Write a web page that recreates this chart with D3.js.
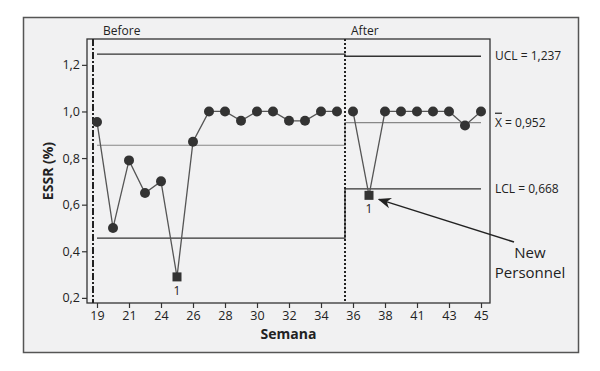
<!DOCTYPE html>
<html>
<head>
<meta charset="utf-8">
<script src="https://cdn.jsdelivr.net/npm/d3@7"></script>
<style>
  body { margin: 0; background: #fff; }
  text { font-family: "Open Sans", "Noto Sans", sans-serif; fill: #222; }
</style>
</head>
<body>
<div id="chart"></div>
<script>
// observations (week numbers) and ESSR values
const weeks = [19, 20, 21, 23, 24, 25, 26, 27, 28, 29, 30, 31, 32, 33, 34, 35,
               36, 37, 38, 40, 41, 42, 43, 44, 45];
const essr = [0.955, 0.50, 0.79, 0.65, 0.70, 0.29, 0.87, 1.0, 1.0, 0.96, 1.0, 1.0, 0.96, 0.96, 1.0, 1.0,
              1.0, 0.64, 1.0, 1.0, 1.0, 1.0, 1.0, 0.94, 1.0];
const outOfControl = [25, 37];   // weeks flagged by test 1
const tickWeeks = [19, 21, 24, 26, 28, 30, 32, 34, 36, 38, 41, 43, 45];
const yTicks = [0.2, 0.4, 0.6, 0.8, 1.0, 1.2];

const phases = ['Before', 'After'];
const phaseSplit = 36;            // first week of "After"
const ucl = [1.246, 1.237];
const center = [0.855, 0.952];
const lcl = [0.456, 0.668];

const W = 600, H = 371;
const margin = {top: 39, right: 110, bottom: 68, left: 87},
  width = W - margin.left - margin.right,
  height = H - margin.top - margin.bottom;

const comma = v => d3.format(".1f")(v).replace(".", ",");
const comma3 = v => d3.format(".3f")(v).replace(".", ",");

const root = d3.select("#chart").append("svg")
  .attr("width", W)
  .attr("height", H);

// outer frame
root.append("rect")
  .attr("x", 23.5).attr("y", 17.5)
  .attr("width", 555).attr("height", 335)
  .attr("fill", "#f1f1f2")
  .attr("stroke", "#555")
  .attr("stroke-width", 1.5);

const svg = root.append("g")
  .attr("transform", `translate(${margin.left},${margin.top})`);

const x = d3.scalePoint()
  .domain(weeks)
  .range([10, width - 9]);

const y = d3.scaleLinear()
  .domain([0.178, 1.311])
  .range([height, 0]);

// plot box
svg.append("rect")
  .attr("width", width).attr("height", height)
  .attr("fill", "#f1f1f2")
  .attr("stroke", "#333")
  .attr("stroke-width", 1.3);

// axes
const xAxis = svg.append("g")
  .attr("transform", `translate(0,${height})`)
  .call(d3.axisBottom(x).tickValues(tickWeeks).tickSize(5).tickSizeOuter(0).tickPadding(3));
const yAxis = svg.append("g")
  .call(d3.axisLeft(y).tickValues(yTicks).tickFormat(comma).tickSize(5).tickSizeOuter(0).tickPadding(2));
[xAxis, yAxis].forEach(a => {
  a.select(".domain").remove();
  a.selectAll(".tick line").attr("stroke", "#333").attr("stroke-width", 1.2);
  a.selectAll(".tick text").style("font-size", "12.5px").attr("fill", "#222")
    .style("font-family", '"Open Sans", sans-serif');
});

// axis titles
svg.append("text")
  .attr("x", width / 2).attr("y", height + 36)
  .attr("text-anchor", "middle")
  .style("font-size", "14px").style("font-weight", "bold")
  .text("Semana");
svg.append("text")
  .attr("transform", `translate(-34,${height / 2}) rotate(-90)`)
  .attr("text-anchor", "middle")
  .style("font-size", "14px").style("font-weight", "bold")
  .text("ESSR (%)");

// phase boundary position
const iSplit = weeks.indexOf(phaseSplit);
const xDiv = (x(weeks[iSplit - 1]) + x(weeks[iSplit])) / 2;
const xFirst = x(weeks[0]), xLast = x(weeks[weeks.length - 1]);

// control limit step lines
const limits = [
  {vals: ucl, color: "#333", w: 1.3},
  {vals: center, color: "#888", w: 1.2},
  {vals: lcl, color: "#333", w: 1.3}
];
const stepLine = d3.line();
limits.forEach(l => {
  svg.append("path")
    .attr("d", stepLine([[xFirst, y(l.vals[0])], [xDiv, y(l.vals[0])],
                         [xDiv, y(l.vals[1])], [xLast, y(l.vals[1])]]))
    .attr("fill", "none")
    .attr("stroke", l.color)
    .attr("stroke-width", l.w);
});

// phase start dash-dot line and divider
svg.append("line")
  .attr("x1", 6).attr("x2", 6)
  .attr("y1", 0).attr("y2", height)
  .attr("stroke", "#222").attr("stroke-width", 2)
  .attr("stroke-dasharray", "7,2,2,2");
svg.append("line")
  .attr("x1", xDiv).attr("x2", xDiv)
  .attr("y1", 0).attr("y2", height)
  .attr("stroke", "#222").attr("stroke-width", 2)
  .attr("stroke-dasharray", "2,2");

// phase labels
svg.selectAll(".phase")
  .data(phases)
  .join("text")
  .attr("class", "phase")
  .attr("x", (d, i) => i === 0 ? 16 : xDiv + 6)
  .attr("y", -4)
  .style("font-size", "12px")
  .text(d => d);

// data line
const data = weeks.map((w, i) => ({week: w, value: essr[i]}));
const line = d3.line().x(d => x(d.week)).y(d => y(d.value));
[data.slice(0, iSplit), data.slice(iSplit)].forEach(seg => {
  svg.append("path")
    .datum(seg)
    .attr("d", line)
    .attr("fill", "none")
    .attr("stroke", "#555")
    .attr("stroke-width", 1.3);
});

// points
svg.selectAll("circle.pt")
  .data(data.filter(d => !outOfControl.includes(d.week)))
  .join("circle")
  .attr("class", "pt")
  .attr("cx", d => x(d.week))
  .attr("cy", d => y(d.value))
  .attr("r", 5)
  .attr("fill", "#333");

const flagged = data.filter(d => outOfControl.includes(d.week));
svg.selectAll("rect.pt")
  .data(flagged)
  .join("rect")
  .attr("class", "pt")
  .attr("x", d => x(d.week) - 4.5)
  .attr("y", d => y(d.value) - 4.5)
  .attr("width", 9).attr("height", 9)
  .attr("fill", "#333");
svg.selectAll("text.flag")
  .data(flagged)
  .join("text")
  .attr("class", "flag")
  .attr("x", d => x(d.week))
  .attr("y", d => y(d.value) + 18)
  .attr("text-anchor", "middle")
  .style("font-size", "12px")
  .text("1");

// limit labels on the right
const lblX = width + 5;
const lbl = svg.append("g").style("font-size", "12px");
lbl.append("text").attr("x", lblX).attr("y", y(ucl[1]) + 4).text("UCL = " + comma3(ucl[1]));
const xb = lbl.append("text").attr("x", lblX).attr("y", y(center[1]) + 4);
xb.append("tspan").style("text-decoration", "overline").text("X");
xb.append("tspan").text(" = " + comma3(center[1]));
lbl.append("text").attr("x", lblX).attr("y", y(lcl[1]) + 4).text("LCL = " + comma3(lcl[1]));

// annotation arrow
const flagAfter = flagged[1];
root.append("defs").append("marker")
  .attr("id", "arr")
  .attr("viewBox", "0 0 10 10")
  .attr("refX", 9).attr("refY", 5)
  .attr("markerWidth", 9).attr("markerHeight", 9)
  .attr("orient", "auto")
  .append("path")
  .attr("d", "M0,1 L10,5 L0,9 L3,5 Z")
  .attr("fill", "#222");
svg.append("line")
  .attr("x1", width + 24).attr("y1", height - 61)
  .attr("x2", x(flagAfter.week) + 10).attr("y2", y(flagAfter.value) + 4)
  .attr("stroke", "#222").attr("stroke-width", 1.5)
  .attr("marker-end", "url(#arr)");
const note = svg.append("text")
  .attr("text-anchor", "middle")
  .style("font-size", "15px");
note.append("tspan").attr("x", width + 40).attr("y", height - 45).text("New");
note.append("tspan").attr("x", width + 40).attr("y", height - 25).text("Personnel");
</script>
</body>
</html>
